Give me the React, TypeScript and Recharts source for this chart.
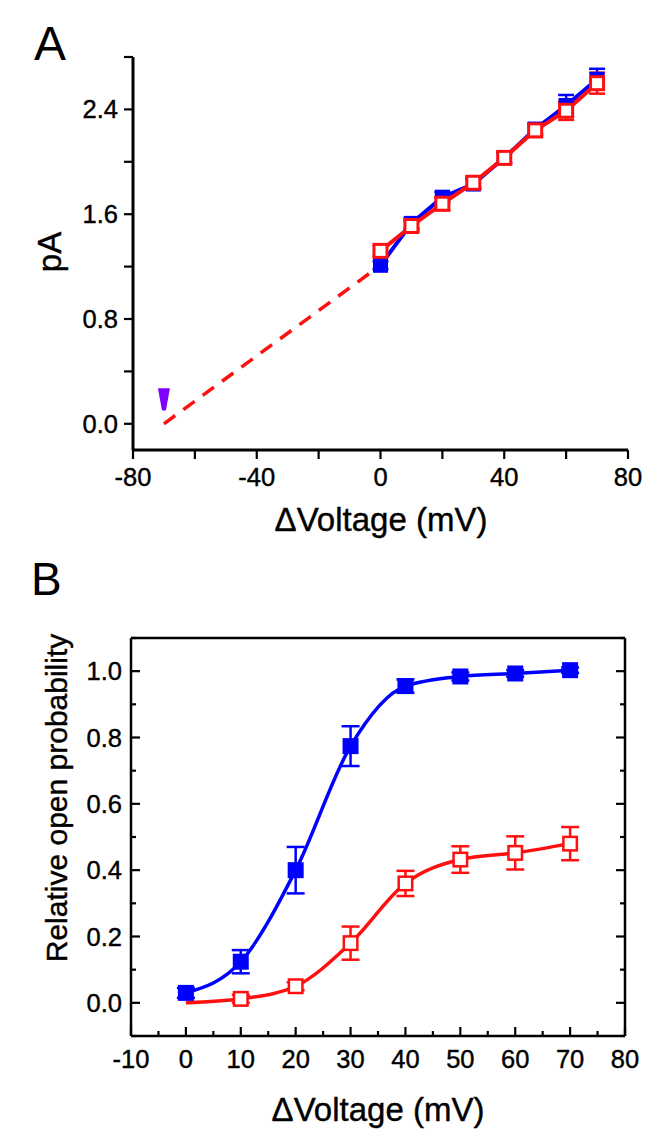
import { ComposedChart, Line, Scatter, XAxis, YAxis, ErrorBar } from "recharts"

const FONT = "'Liberation Sans', Arial, sans-serif"
const BLUE = "#0000ff"
const RED = "#ff1010"
const PURPLE = "#7f00ff"

// shared voltage steps (mV)
const volts = [0, 10, 20, 30, 40, 50, 60, 70]

// panel A: unitary current (pA)
const blueCurrent = [1.21, 1.53, 1.73, 1.83, 2.03, 2.25, 2.43, 2.63]
const blueCurrentErr = [0.03, 0.04, 0.04, 0.04, 0.04, 0.04, 0.08, 0.08]
const redCurrent = [1.32, 1.51, 1.68, 1.84, 2.03, 2.24, 2.39, 2.6]
const redCurrentErr = [0.04, 0.04, 0.05, 0.04, 0.04, 0.05, 0.07, 0.08]
const extrapVolts = [-70, 0]
const extrapCurrent = [0, 1.21]
const reversalVolt = [-70]
const reversalCurrent = [0.18]
const aXTicks = [-80, -60, -40, -20, 0, 20, 40, 60, 80]
const aYTicks = [0, 0.4, 0.8, 1.2, 1.6, 2.0, 2.4, 2.8]

// panel B: relative open probability
const blueOpen = [0.03, 0.124, 0.4, 0.774, 0.955, 0.984, 0.993, 1.003]
const blueOpenErr = [0.015, 0.035, 0.07, 0.06, 0.02, 0.012, 0.01, 0.008]
const redOpen = [0.0, 0.012, 0.05, 0.18, 0.36, 0.432, 0.452, 0.48]
const redOpenErr = [0, 0.012, 0.012, 0.05, 0.038, 0.04, 0.05, 0.05]
const bXTicks = [-10, -5, 0, 5, 10, 15, 20, 25, 30, 35, 40, 45, 50, 55, 60, 65, 70, 75, 80]
const bYTicks = [-0.1, 0, 0.1, 0.2, 0.3, 0.4, 0.5, 0.6, 0.7, 0.8, 0.9, 1.0, 1.1]

const pts = (xs: number[], ys: number[], es?: number[]) =>
    xs.map((v, i) => ({ v, y: ys[i], e: es ? es[i] : 0 }))

function AxisTick(props: any) {
    const { x, y, payload, side, inward, step, len, minorLen, labeled, digits, gap } = props
    const v = payload.value
    const major = Math.abs(v / step - Math.round(v / step)) < 1e-6
    const l = major ? len : minorLen
    const text = labeled && major ? v.toFixed(digits) : null
    let line = null
    let label = null
    if (side === "left") {
        line = <line x1={x} y1={y} x2={x + (inward ? l : -l)} y2={y} />
        if (text) label = <text x={x - gap} y={y + 9} textAnchor="end">{text}</text>
    } else if (side === "right") {
        line = <line x1={x} y1={y} x2={x - l} y2={y} />
    } else if (side === "top") {
        line = <line x1={x} y1={y} x2={x} y2={y + l} />
    } else {
        line = <line x1={x} y1={y} x2={x} y2={y + (inward ? -l : l)} />
        if (text) label = <text x={x} y={y + gap} textAnchor="middle">{text}</text>
    }
    return (
        <g>
            <g stroke="#000" strokeWidth={2.2}>{line}</g>
            <g fill="#000" stroke="#000" strokeWidth={0.4} fontSize={25.5} fontFamily={FONT}>{label}</g>
        </g>
    )
}

const filledSquare = (size: number, color: string) => (p: any) =>
    <rect x={p.cx - size / 2} y={p.cy - size / 2} width={size} height={size} fill={color} />
const openSquare = (size: number, color: string, sw: number) => (p: any) =>
    <rect x={p.cx - size / 2 + sw / 2} y={p.cy - size / 2 + sw / 2} width={size - sw} height={size - sw}
        fill="#fff" stroke={color} strokeWidth={sw} />
const reversalMark = (p: any) => (
    <path d={`M${p.cx - 6} ${p.cy - 12} L${p.cx + 6} ${p.cy - 12} L${p.cx + 2.2} ${p.cy + 9}
        Q${p.cx} ${p.cy + 12} ${p.cx - 2.2} ${p.cy + 9} Z`} fill={PURPLE} />
)

function PanelA() {
    return (
        <ComposedChart width={664} height={580} margin={{ top: 57, right: 36, left: 73, bottom: 70 }}>
            <XAxis type="number" dataKey="v" domain={[-80, 80]} ticks={aXTicks} interval={0} height={60}
                axisLine={{ stroke: "#000", strokeWidth: 3 }} tickLine={false} tickSize={0} tickMargin={0}
                tick={<AxisTick side="bottom" inward={false} step={40} len={9} minorLen={9} labeled digits={0} gap={36} />} />
            <YAxis type="number" domain={[-0.2, 2.8]} ticks={aYTicks} interval={0} width={60} allowDataOverflow
                axisLine={{ stroke: "#000", strokeWidth: 3 }} tickLine={false} tickSize={0} tickMargin={0}
                tick={<AxisTick side="left" inward={false} step={0.8} len={9} minorLen={9} labeled digits={1} gap={15} />} />
            <Line data={pts(extrapVolts, extrapCurrent)} dataKey="y" stroke={RED} strokeWidth={3.5}
                strokeDasharray="14 10" dot={false} isAnimationActive={false} />
            <Scatter data={pts(reversalVolt, reversalCurrent)} dataKey="y" shape={reversalMark} isAnimationActive={false} />
            <Line data={pts(volts, blueCurrent)} dataKey="y" stroke={BLUE} strokeWidth={4} dot={false} isAnimationActive={false} />
            <Scatter data={pts(volts, blueCurrent, blueCurrentErr)} dataKey="y" shape={filledSquare(15, BLUE)} isAnimationActive={false}>
                <ErrorBar dataKey="e" direction="y" width={8} stroke={BLUE} strokeWidth={2.5} />
            </Scatter>
            <Line data={pts(volts, redCurrent)} dataKey="y" stroke={RED} strokeWidth={4} dot={false} isAnimationActive={false} />
            <Scatter data={pts(volts, redCurrent, redCurrentErr)} dataKey="y" shape={openSquare(16, RED, 3)} isAnimationActive={false}>
                <ErrorBar dataKey="e" direction="y" width={8} stroke={RED} strokeWidth={2.5} />
            </Scatter>
        </ComposedChart>
    )
}

function PanelB() {
    const axis = { stroke: "#000", strokeWidth: 2.5 }
    return (
        <ComposedChart width={664} height={578} margin={{ top: 68, right: 29, left: 71, bottom: 42 }}>
            <XAxis type="number" dataKey="v" domain={[-10, 80]} ticks={bXTicks} interval={0} height={60}
                axisLine={axis} tickLine={false} tickSize={0} tickMargin={0}
                tick={<AxisTick side="bottom" inward step={10} len={9} minorLen={5} labeled digits={0} gap={32} />} />
            <XAxis xAxisId="top" orientation="top" type="number" dataKey="v" domain={[-10, 80]} ticks={bXTicks} interval={0} height={10}
                axisLine={axis} tickLine={false} tickSize={0} tickMargin={0}
                tick={<AxisTick side="top" inward step={10} len={9} minorLen={5} labeled={false} digits={0} gap={0} />} />
            <YAxis type="number" domain={[-0.1, 1.1]} ticks={bYTicks} interval={0} width={60} allowDataOverflow
                axisLine={axis} tickLine={false} tickSize={0} tickMargin={0}
                tick={<AxisTick side="left" inward step={0.2} len={9} minorLen={5} labeled digits={1} gap={9} />} />
            <YAxis yAxisId="right" orientation="right" type="number" domain={[-0.1, 1.1]} ticks={bYTicks} interval={0} width={10} allowDataOverflow
                axisLine={axis} tickLine={false} tickSize={0} tickMargin={0}
                tick={<AxisTick side="right" inward step={0.2} len={9} minorLen={5} labeled={false} digits={1} gap={0} />} />
            <Line data={pts(volts, blueOpen)} dataKey="y" type="monotone" stroke={BLUE} strokeWidth={3.5} dot={false} isAnimationActive={false} />
            <Scatter data={pts(volts, blueOpen, blueOpenErr)} dataKey="y" shape={filledSquare(16, BLUE)} isAnimationActive={false}>
                <ErrorBar dataKey="e" direction="y" width={9} stroke={BLUE} strokeWidth={2.5} />
            </Scatter>
            <Line data={pts(volts, redOpen)} dataKey="y" type="monotone" stroke={RED} strokeWidth={3.5} dot={false} isAnimationActive={false} />
            {/* no symbol at 0 mV for this series, the fit just starts there */}
            <Scatter data={pts(volts, redOpen, redOpenErr).slice(1)} dataKey="y" shape={openSquare(16, RED, 2.5)} isAnimationActive={false}>
                <ErrorBar dataKey="e" direction="y" width={9} stroke={RED} strokeWidth={2.5} />
            </Scatter>
        </ComposedChart>
    )
}

export default function App() {
    return (
        <div style={{ position: "absolute", left: 0, top: 0, width: 664, height: 1138, background: "#fff" }}>
            <div style={{ position: "absolute", left: 0, top: 0 }}><PanelA /></div>
            <div style={{ position: "absolute", left: 0, top: 560 }}><PanelB /></div>
            <svg width={664} height={1138} style={{ position: "absolute", left: 0, top: 0, pointerEvents: "none" }}
                fontFamily={FONT} fill="#000" stroke="#000" strokeWidth={0.4}>
                <text x={34} y={60} fontSize={48} strokeWidth={0}>A</text>
                <text transform="translate(61,252) rotate(-90)" textAnchor="middle" fontSize={33}>pA</text>
                <text x={381} y={531} textAnchor="middle" fontSize={33}>ΔVoltage (mV)</text>
                <text x={31} y={595} fontSize={46} strokeWidth={0}>B</text>
                <text transform="translate(67,798) rotate(-90)" textAnchor="middle" fontSize={30}>Relative open probability</text>
                <text x={378} y={1121} textAnchor="middle" fontSize={33}>ΔVoltage (mV)</text>
            </svg>
        </div>
    )
}
